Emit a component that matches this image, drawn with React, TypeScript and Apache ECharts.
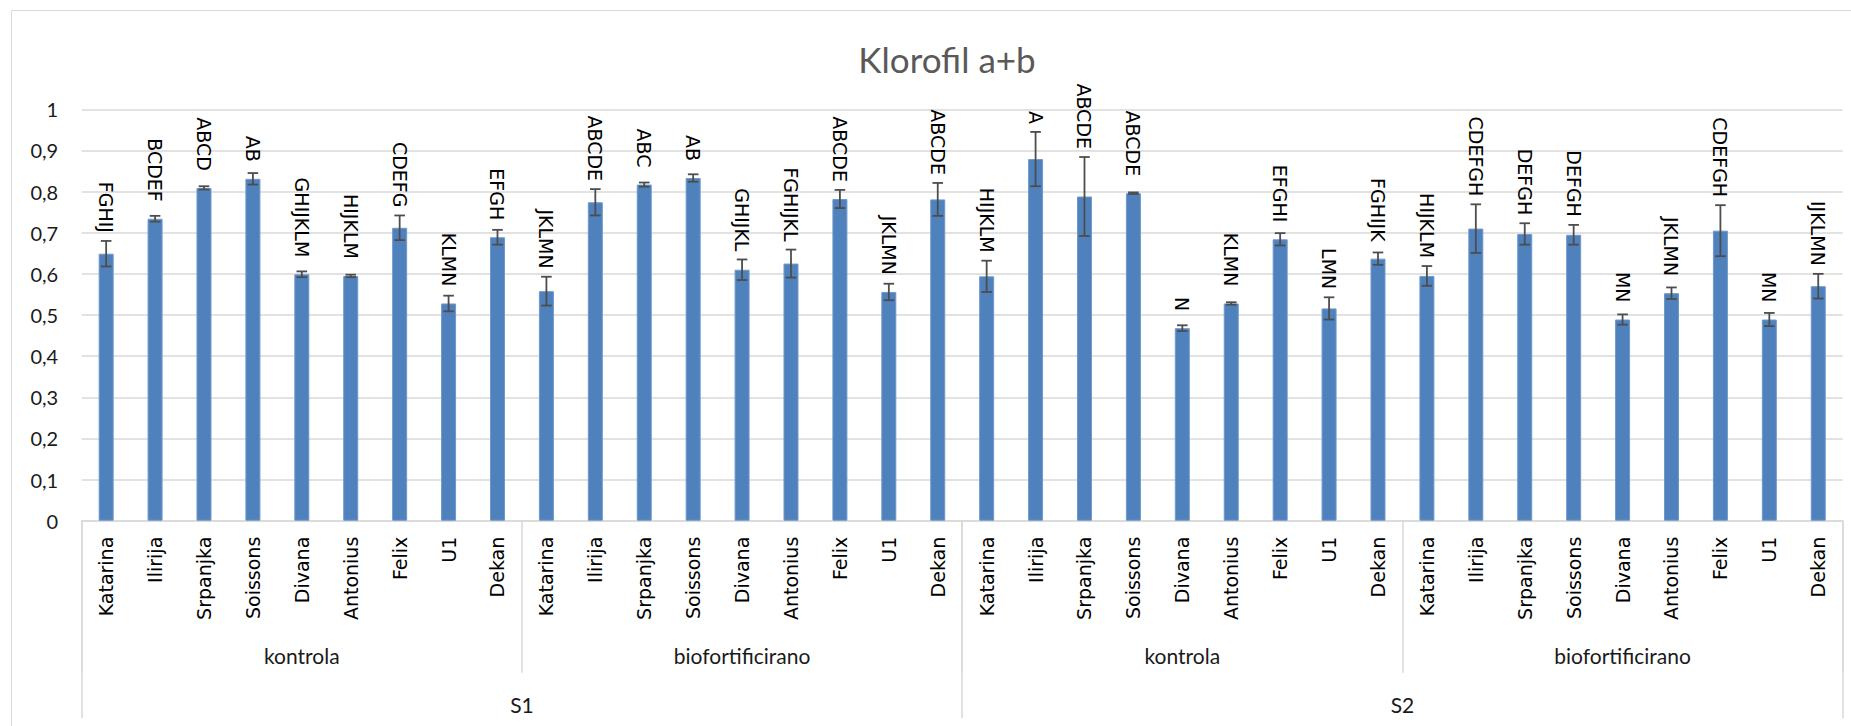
import React, { useEffect, useRef } from "react";
import * as echarts from "echarts";

const varieties = ["Katarina", "Ilirija", "Srpanjka", "Soissons", "Divana", "Antonius", "Felix", "U1", "Dekan"];
const treatments = ["kontrola", "biofortificirano"];
const seasons = ["S1", "S2"];

const yTicks = [0, 0.1, 0.2, 0.3, 0.4, 0.5, 0.6, 0.7, 0.8, 0.9, 1];

const meansS1Kontrola = [0.649, 0.734, 0.809, 0.831, 0.599, 0.595, 0.712, 0.528, 0.689];
const meansS1Bio = [0.558, 0.774, 0.817, 0.833, 0.61, 0.625, 0.782, 0.556, 0.781];
const meansS2Kontrola = [0.594, 0.879, 0.788, 0.796, 0.468, 0.528, 0.684, 0.516, 0.637];
const meansS2Bio = [0.595, 0.71, 0.697, 0.695, 0.489, 0.553, 0.705, 0.489, 0.57];

const errS1Kontrola = [0.031, 0.007, 0.004, 0.014, 0.007, 0.003, 0.03, 0.019, 0.018];
const errS1Bio = [0.035, 0.032, 0.005, 0.009, 0.025, 0.034, 0.022, 0.02, 0.04];
const errS2Kontrola = [0.038, 0.066, 0.096, 0.002, 0.007, 0.003, 0.015, 0.027, 0.015];
const errS2Bio = [0.024, 0.059, 0.026, 0.024, 0.0125, 0.014, 0.062, 0.016, 0.03];

const lettersS1Kontrola = ["FGHIJ", "BCDEF", "ABCD", "AB", "GHIJKLM", "HIJKLM", "CDEFG", "KLMN", "EFGH"];
const lettersS1Bio = ["JKLMN", "ABCDE", "ABC", "AB", "GHIJKL", "FGHIJKL", "ABCDE", "JKLMN", "ABCDE"];
const lettersS2Kontrola = ["HIJKLM", "A", "ABCDE", "ABCDE", "N", "KLMN", "EFGHI", "LMN", "FGHIJK"];
const lettersS2Bio = ["HIJKLM", "CDEFGH", "DEFGH", "DEFGH", "MN", "JKLMN", "CDEFGH", "MN", "IJKLMN"];

const categories = [...varieties, ...varieties, ...varieties, ...varieties];
const means = [...meansS1Kontrola, ...meansS1Bio, ...meansS2Kontrola, ...meansS2Bio];
const errs = [...errS1Kontrola, ...errS1Bio, ...errS2Kontrola, ...errS2Bio];
const letters = [...lettersS1Kontrola, ...lettersS1Bio, ...lettersS2Kontrola, ...lettersS2Bio];
const treatmentLabels = [...treatments, ...treatments];

const W = 1851;
const H = 726;
const GRID_LEFT = 81.7;
const GRID_RIGHT = W - 1842.7;
const GRID_TOP = 109.3;
const GRID_BOTTOM = H - 520.7;

const calibriLike = "Lato";
const verdanaLike = "DejaVu Sans";
const gridColor = "#d9d9d9";

function fmtY(v: number) {
  const r = Math.round(v * 10) / 10;
  if (!yTicks.some((t) => Math.abs(t - r) < 1e-9)) return "";
  return String(r).replace(".", ",");
}

export default function App() {
  const ref = useRef<HTMLDivElement>(null);
  useEffect(() => {
    if (!ref.current) return;
    const chart = echarts.init(ref.current, null, { renderer: "svg" });
    const errData = means.map((m, i) => [i, m, errs[i]]);
    chart.setOption({
      animation: false,
      backgroundColor: "#ffffff",
      title: {
        text: "Klorofil a+b",
        left: 942,
        top: 36,
        textAlign: "center",
        textStyle: { fontFamily: calibriLike, fontSize: 35, fontWeight: "normal", color: "#595959" },
      },
      graphic: [
        {
          type: "rect",
          silent: true,
          z: -10,
          shape: { x: 11.5, y: 10.5, width: 1900, height: 800 },
          style: { fill: "none", stroke: gridColor, lineWidth: 1 },
        },
      ],
      grid: {
        left: GRID_LEFT,
        right: GRID_RIGHT,
        top: GRID_TOP,
        bottom: GRID_BOTTOM,
        containLabel: false,
        outerBoundsMode: "none",
      },
      xAxis: [
        {
          type: "category",
          data: categories,
          position: "bottom",
          axisLine: { show: true, lineStyle: { color: gridColor, width: 1.5 } },
          axisTick: { show: false },
          axisLabel: {
            interval: 0,
            rotate: 90,
            margin: 16,
            color: "#000",
            fontFamily: verdanaLike,
            fontSize: 19,
          },
          splitLine: { show: false },
        },
        {
          type: "category",
          data: treatmentLabels,
          position: "bottom",
          offset: 152,
          axisLine: { show: false },
          axisTick: { show: true, inside: true, length: 152, interval: 0, lineStyle: { color: gridColor, width: 1.5 } },
          axisLabel: {
            inside: true,
            interval: 0,
            margin: 7,
            color: "#1a1a1a",
            fontFamily: calibriLike,
            fontSize: 21,
          },
          splitLine: { show: false },
        },
        {
          type: "category",
          data: seasons,
          position: "bottom",
          offset: 197.6,
          axisLine: { show: false },
          axisTick: { show: true, inside: true, length: 197.6, interval: 0, lineStyle: { color: gridColor, width: 1.5 } },
          axisLabel: {
            inside: true,
            interval: 0,
            margin: 3,
            color: "#1a1a1a",
            fontFamily: calibriLike,
            fontSize: 21,
          },
          splitLine: { show: false },
        },
      ],
      yAxis: {
        type: "value",
        min: 0,
        max: 1,
        interval: 0.1,
        axisLine: { show: false },
        axisTick: { show: false },
        axisLabel: {
          formatter: fmtY,
          margin: 23.5,
          color: "#1a1a1a",
          fontFamily: calibriLike,
          fontSize: 20,
        },
        splitLine: { show: true, lineStyle: { color: gridColor, width: 1.5 } },
      },
      series: [
        {
          type: "bar",
          xAxisIndex: 0,
          data: means,
          barWidth: 15,
          itemStyle: { color: "#4F81BD", borderColor: "#6f98c9", borderWidth: 1 },
          z: 2,
        },
        {
          type: "custom",
          xAxisIndex: 0,
          data: errData,
          encode: { x: 0, y: 1 },
          z: 3,
          renderItem: (params: any, api: any) => {
            const i = api.value(0);
            const m = api.value(1);
            const e = api.value(2);
            const top = api.coord([i, m + e]);
            const bot = api.coord([i, m - e]);
            const barTop = api.coord([i, m]);
            const x = top[0];
            const half = 5.3;
            const stroke = { stroke: "#4d4d4d", lineWidth: 1.8 };
            const labelY = Math.min(barTop[1] - 17, top[1] - 8);
            return {
              type: "group",
              children: [
                { type: "line", shape: { x1: x, y1: top[1], x2: x, y2: bot[1] }, style: stroke },
                { type: "line", shape: { x1: x - half, y1: top[1], x2: x + half, y2: top[1] }, style: stroke },
                { type: "line", shape: { x1: x - half, y1: bot[1], x2: x + half, y2: bot[1] }, style: stroke },
                {
                  type: "text",
                  x: x,
                  y: labelY,
                  rotation: -Math.PI / 2,
                  style: {
                    text: letters[params.dataIndex],
                    fill: "#000",
                    fontFamily: verdanaLike,
                    fontSize: 19,
                    align: "right",
                    verticalAlign: "middle",
                    textAlign: "right",
                    textVerticalAlign: "middle",
                  },
                },
              ],
            };
          },
        },
      ],
    });
    return () => chart.dispose();
  }, []);
  return <div ref={ref} style={{ position: "absolute", left: 0, top: 0, width: W, height: H }} />;
}
